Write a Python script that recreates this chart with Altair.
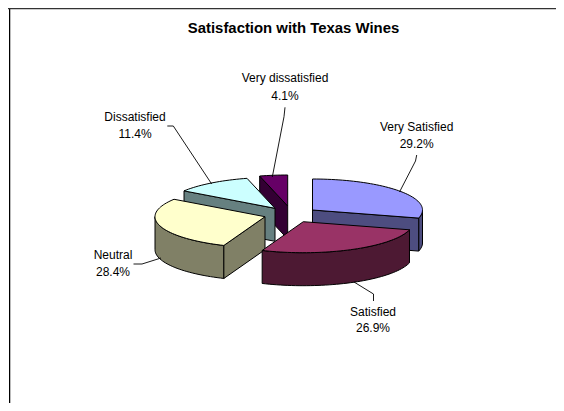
import altair as alt
import numpy as np
import pandas as pd

# ---- values ----
CATEGORIES = ["Very Satisfied", "Satisfied", "Neutral", "Dissatisfied", "Very dissatisfied"]
PERCENTS = [29.2, 26.9, 28.4, 11.4, 4.1]
TITLE = "Satisfaction with Texas Wines"

# ---- styling and layout ----
TOP_COLORS = ["#9999ff", "#993366", "#ffffcc", "#ccffff", "#660066"]
SIDE_COLORS = ["#4d4d80", "#4d1933", "#808066", "#668080", "#330033"]
APEX = [(312.5, 210.0), (303.3, 221.7), (265.0, 216.7), (275.0, 208.3), (287.7, 206.0)]
LABEL_POS = [(416.7, 127, 143.5), (373, 311.5, 328), (113, 254.5, 272), (135, 116.7, 134), (285, 78.3, 96)]
LEADERS = [
    [(416.7, 155), (415.5, 161), (399.5, 192)],
    [(354, 282), (373.5, 294), (373.5, 301)],
    [(133.5, 264), (142, 264), (161, 258)],
    [(167.3, 126), (173.3, 126), (211.7, 184)],
    [(285, 107.3), (284, 116.7), (272.3, 177)],
]
RX, RY, DEPTH = 110.0, 31.0, 33.0
W, H = 548, 395
X0, Y0 = 8, 8

edges = np.concatenate([[0], np.cumsum(PERCENTS)]) * 3.6


def pt(c, a):
    r = np.radians(a)
    return (c[0] + RX * np.sin(r), c[1] - RY * np.cos(r))


def arc(c, a0, a1):
    n = max(2, int(abs(a1 - a0) / 2) + 2)
    return [pt(c, a) for a in np.linspace(a0, a1, n)]


rows = []


def add(name, color, pts):
    for i, (x, y) in enumerate(pts):
        rows.append(dict(face=name, color=color, i=i, x=x, y=y))


def drop(pts):
    return [(x, y + DEPTH) for x, y in pts]


def radial(k, a):
    c = APEX[k]
    ring = [c, pt(c, a)]
    add(f"{k}-r{a:.0f}", SIDE_COLORS[k], ring + drop(ring)[::-1])


def wall(k, a0, a1):
    ring = arc(APEX[k], a0, a1)
    add(f"{k}-w", SIDE_COLORS[k], ring + drop(ring)[::-1])


def top(k):
    add(f"{k}-t", TOP_COLORS[k], [APEX[k]] + arc(APEX[k], edges[k], edges[k + 1]))


# back to front
radial(4, edges[4]); top(4)
radial(3, edges[3]); top(3)
wall(0, 90, edges[1]); radial(0, edges[1]); top(0)
wall(2, edges[2], 270); radial(2, edges[2]); top(2)
wall(1, edges[1], edges[2]); top(1)

faces = pd.DataFrame(rows)
xs = alt.Scale(domain=[X0, X0 + W], range=[0, W])
ys = alt.Scale(domain=[Y0, Y0 + H], range=[0, H])
X = alt.X("x:Q", scale=xs, axis=None)
Y = alt.Y("y:Q", scale=ys, axis=None)

pie = alt.Chart(faces).mark_line(
    interpolate="linear-closed", stroke="black", strokeWidth=1, strokeJoin="round"
).encode(x=X, y=Y, detail="face:N", order="i:Q", fill=alt.Fill("color:N", scale=None))

leader_df = pd.DataFrame(
    [dict(k=k, i=i, x=x, y=y) for k, L in enumerate(LEADERS) for i, (x, y) in enumerate(L)]
)
leaders = alt.Chart(leader_df).mark_line(stroke="black", strokeWidth=0.9).encode(
    x=X, y=Y, detail="k:N", order="i:Q"
)

text_rows = []
for name, p, (x, y1, y2) in zip(CATEGORIES, PERCENTS, LABEL_POS):
    text_rows.append(dict(x=x, y=y1, t=name))
    text_rows.append(dict(x=x, y=y2, t=f"{p:.1f}%"))
labels = alt.Chart(pd.DataFrame(text_rows)).mark_text(
    font="Liberation Sans", fontSize=12, color="black", align="center", baseline="middle"
).encode(x=X, y=Y, text="t:N")

title = alt.Chart(pd.DataFrame([dict(x=293.5, y=28.5, t=TITLE)])).mark_text(
    font="Liberation Sans", fontSize=14.9, fontWeight="bold", color="black", align="center", baseline="middle"
).encode(x=X, y=Y, text="t:N")

frame_v = pd.DataFrame([dict(x=9.5, c="black"), dict(x=10.5, c="#bbbbbb")])
fv = alt.Chart(frame_v).mark_rule(strokeWidth=1).encode(
    x=alt.X("x:Q", scale=xs, axis=None), color=alt.Color("c:N", scale=None)
)
ft = alt.Chart(pd.DataFrame([dict(y=8.5)])).mark_rule(strokeWidth=1.5, color="#333333").encode(
    y=alt.Y("y:Q", scale=ys, axis=None)
)

chart = alt.layer(fv, ft, pie, leaders, labels, title).properties(
    width=W, height=H, padding=0, background="white",
    autosize=alt.AutoSizeParams(type="none"),
).configure_view(stroke=None)

chart.save("out.html", embed_options={"renderer": "svg", "actions": False})
